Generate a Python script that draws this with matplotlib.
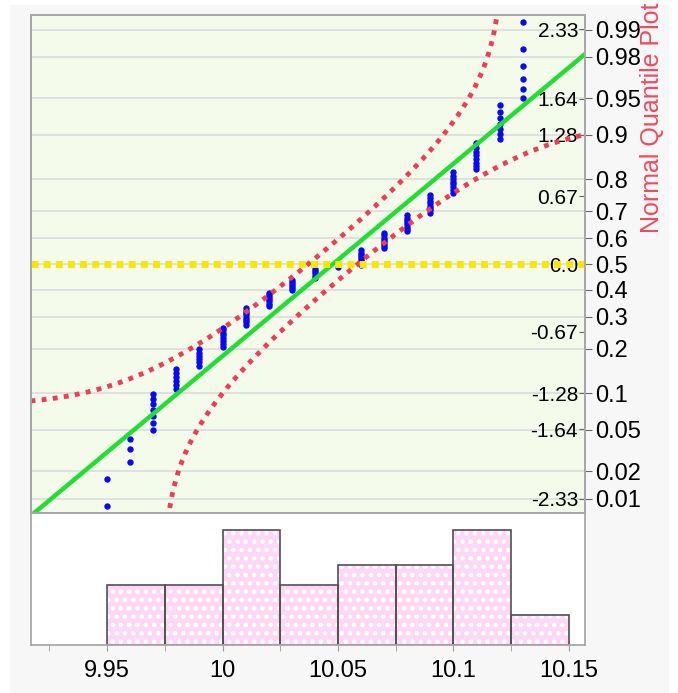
import numpy as np
import matplotlib
matplotlib.use('Agg')
import matplotlib.pyplot as plt
from matplotlib.ticker import MultipleLocator
from statistics import NormalDist

plt.rcParams['font.family'] = ['Liberation Sans', 'DejaVu Sans']
plt.rcParams['hatch.linewidth'] = 2.0

# measured values and how many times each one occurs
values = [9.95, 9.96, 9.97, 9.98, 9.99, 10.00, 10.01, 10.02, 10.03, 10.04,
          10.05, 10.06, 10.07, 10.08, 10.09, 10.10, 10.11, 10.12, 10.13]
counts = [2, 3, 7, 6, 6, 8, 8, 7, 6, 5, 1, 8, 8, 8, 8, 8, 8, 7, 6]

# histogram bins as shown
bin_edges = [9.95, 9.975, 10.0, 10.025, 10.05, 10.075, 10.1, 10.125, 10.15]
bin_counts = [12, 12, 23, 12, 16, 16, 23, 6]

z_ticks = [-2.33, -1.64, -1.28, -0.67, 0.0, 0.67, 1.28, 1.64, 2.33]
z_labels = ['-2.33', '-1.64', '-1.28', '-0.67', '0.0', '0.67', '1.28', '1.64', '2.33']
p_ticks = [0.01, 0.02, 0.05, 0.1, 0.2, 0.3, 0.4, 0.5, 0.6, 0.7, 0.8, 0.9, 0.95, 0.98, 0.99]
x_ticks = [9.95, 10, 10.05, 10.1, 10.15]
x_labels = ['9.95', '10', '10.05', '10.1', '10.15']

nd = NormalDist()
data = np.repeat(values, counts)
n = len(data)
quant = [nd.inv_cdf(r / (n + 1)) for r in range(1, n + 1)]
mu = data.mean()
sd = data.std(ddof=1)
d_crit = 0.886 / np.sqrt(n)  # Lilliefors 95%

fig = plt.figure(figsize=(6.78, 6.93), dpi=100, facecolor='white')
fig.patches.append(plt.Rectangle((10 / 678, 0), 658 / 678, 688 / 693,
                                 transform=fig.transFigure, color='#f7f7f7', zorder=-1))

ax = fig.add_axes([0.0457, 0.2597, 0.8171, 0.7186])
hx = fig.add_axes([0.0457, 0.0693, 0.8171, 0.1905], sharex=ax)

ax.set_facecolor('#f4fbea')
for p in p_ticks:
    ax.axhline(nd.inv_cdf(p), color='#dcdcdc', lw=1.2, zorder=1)

ax.plot(data, quant, 'o', color='#0a0aee', ms=4.6, mec='none', zorder=2)

xs = np.linspace(9.9, 10.2, 1500)
ax.plot(xs, (xs - mu) / sd, color='#22dd33', lw=3.2, zorder=3)
F = [nd.cdf((x - mu) / sd) for x in xs]
upper = [nd.inv_cdf(f + d_crit) if f + d_crit < 1 else np.nan for f in F]
lower = [nd.inv_cdf(f - d_crit) if f - d_crit > 0 else np.nan for f in F]
ax.plot(xs, upper, color='#ee3e55', lw=3.5, ls=(0, (1, 1.3)), zorder=4)
ax.plot(xs, lower, color='#ee3e55', lw=3.5, ls=(0, (1, 1.3)), zorder=4)
ax.axhline(0, color='#f8e800', lw=5, ls=(0, (1, 0.75)), zorder=5)

ax.set_ylim(-2.47, 2.47)
ax2 = ax.twinx()
ax2.set_ylim(ax.get_ylim())
ax2.set_yticks([nd.inv_cdf(p) for p in p_ticks], [f'{p:g}' for p in p_ticks])
ax2.tick_params(axis='y', direction='out', length=5, pad=2, labelsize=17,
                color='#666666')
ax2.tick_params(axis='x', bottom=False, labelbottom=False)

ax.yaxis.tick_right()
ax.set_yticks(z_ticks, z_labels)
ax.tick_params(axis='y', direction='in', length=4, pad=-5, labelsize=15,
               color='#666666')
for t in ax.get_yticklabels():
    t.set_ha('right')
    t.set_zorder(6)
ax.tick_params(axis='x', bottom=False, labelbottom=False)

for a in (ax, ax2, hx):
    for s in a.spines.values():
        s.set_color('#a8a8a8')
        s.set_linewidth(1.3)

fig.text(652 / 678, 1 - 3 / 693, 'Normal Quantile Plot', rotation=90,
         va='top', ha='center', color='#f04a60', fontsize=18)

hx.set_facecolor('white')
widths = np.diff(bin_edges)
hx.bar(bin_edges[:-1], bin_counts, width=widths, align='edge',
       color='#fcd8f6', edgecolor='white', hatch='..', lw=0)
hx.bar(bin_edges[:-1], bin_counts, width=widths, align='edge',
       fill=False, edgecolor='#505050', lw=1.2)
hx.set_ylim(0, 26.4)
hx.set_yticks([])
hx.set_xlim(9.917, 10.157)
hx.set_xticks(x_ticks, x_labels)
hx.xaxis.set_minor_locator(MultipleLocator(0.025))
hx.tick_params(axis='x', which='both', length=4, color='#999999', labelsize=17, pad=7)

fig.savefig('out.png', dpi=100, facecolor=fig.get_facecolor())
